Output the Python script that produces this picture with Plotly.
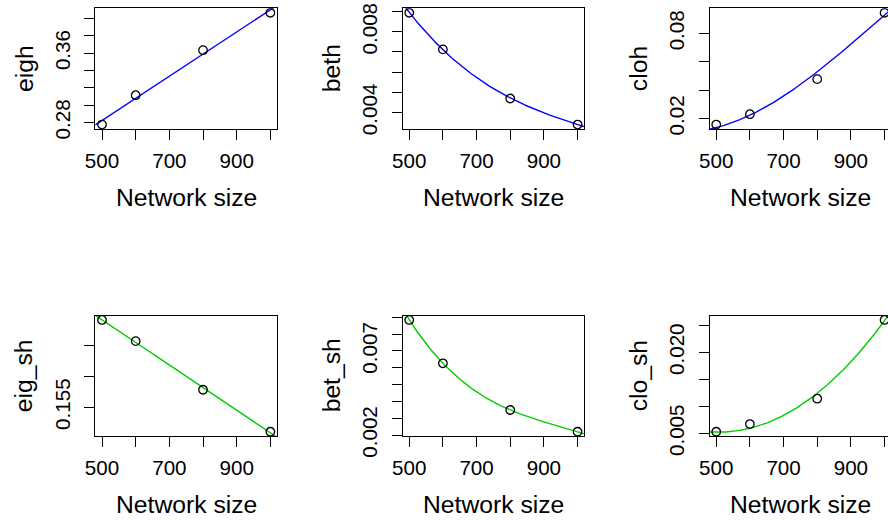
import numpy as np
import plotly.graph_objects as go

# ---- data ----
network_size = [500, 600, 800, 1000]

# observed points
eigh = [0.2777, 0.3115, 0.3634, 0.4065]
beth = [0.008943, 0.007127, 0.004695, 0.003404]
cloh = [0.01576, 0.02304, 0.04775, 0.09455]
eig_sh = [0.16917, 0.16574, 0.15784, 0.15103]
bet_sh = [0.008845, 0.006268, 0.003488, 0.002196]
clo_sh = [0.005296, 0.006722, 0.011407, 0.025981]

# fitted-curve values at the same network sizes
beth_fit = [0.008960, 0.007110, 0.004720, 0.003404]
cloh_fit = [0.01360, 0.02230, 0.05290, 0.09290]
bet_sh_fit = [0.008845, 0.006268, 0.003488, 0.002196]
clo_sh_fit = [0.00520, 0.00593, 0.01240, 0.02585]

x_ticks = [500, 600, 700, 800, 900, 1000]
x_ticklabels = ["500", "", "700", "", "900", ""]

y_ticks = [
    [0.28, 0.30, 0.32, 0.34, 0.36, 0.38, 0.40],
    [0.004, 0.005, 0.006, 0.007, 0.008, 0.009],
    [0.02, 0.04, 0.06, 0.08],
    [0.155, 0.160, 0.165],
    [0.002, 0.003, 0.004, 0.005, 0.006, 0.007, 0.008, 0.009],
    [0.005, 0.010, 0.015, 0.020, 0.025],
]
y_ticklabels = [
    ["0.28", "", "", "", "0.36", "", ""],
    ["0.004", "", "", "", "0.008", ""],
    ["0.02", "", "", "0.08"],
    ["0.155", "", ""],
    ["0.002", "", "", "", "", "0.007", "", ""],
    ["0.005", "", "", "0.020", ""],
]

names = ["eigh", "beth", "cloh", "eig_sh", "bet_sh", "clo_sh"]
series = [eigh, beth, cloh, eig_sh, bet_sh, clo_sh]
# linear panels: least-squares line through the points;
# curved panels: smooth curve through the read fitted values
fit_values = [eigh, beth_fit, cloh_fit, eig_sh, bet_sh_fit, clo_sh_fit]
fit_degree = [1, 3, 3, 1, 3, 3]
line_colors = ["#0000FF", "#0000FF", "#0000FF", "#00CD00", "#00CD00", "#00CD00"]

# ---- layout geometry (pixels) ----
W, H = 888, 520
col_left = [95.3, 402.5, 709.5]
box_w = 181.8
row_top = [8.3, 315.5]
box_h = 120.7
x_lo, x_hi = 480, 1020

FONT = "Liberation Sans, Arial, Helvetica, sans-serif"
tick_size = 20.6
title_size = 24.7

fig = go.Figure()
annotations = []
layout_axes = {}

for i, (name, ys) in enumerate(zip(names, series)):
    r, c = divmod(i, 3)
    k = i + 1
    xa = "x" if k == 1 else f"x{k}"
    ya = "y" if k == 1 else f"y{k}"
    xkey = "xaxis" if k == 1 else f"xaxis{k}"
    ykey = "yaxis" if k == 1 else f"yaxis{k}"

    left = col_left[c]
    right = min(left + box_w, W)
    top = row_top[r]
    bottom = top + box_h
    xr_hi = x_lo + (right - left) / box_w * (x_hi - x_lo)

    ymin, ymax = min(ys), max(ys)
    span = ymax - ymin
    yr = [ymin - 0.04 * span, ymax + 0.04 * span]

    coef = np.polyfit(network_size, fit_values[i], fit_degree[i])
    xs = np.linspace(x_lo, x_hi, 300)
    fig.add_trace(go.Scatter(x=xs, y=np.polyval(coef, xs), mode="lines",
                             line=dict(color=line_colors[i], width=1.4),
                             xaxis=xa, yaxis=ya, hoverinfo="skip", showlegend=False))
    fig.add_trace(go.Scatter(x=network_size, y=ys, mode="markers",
                             marker=dict(symbol="circle-open", size=8.5,
                                         color="black", line=dict(width=1.3, color="black")),
                             xaxis=xa, yaxis=ya, showlegend=False))

    layout_axes[xkey] = dict(
        domain=[left / W, right / W], anchor=ya, range=[x_lo, xr_hi],
        automargin=False,
        showline=True, mirror=True, linecolor="black", linewidth=1,
        showgrid=False, zeroline=False,
        ticks="outside", ticklen=10, tickwidth=1, tickcolor="black",
        tickvals=x_ticks, ticktext=x_ticklabels,
        tickfont=dict(family=FONT, size=tick_size, color="black"),
        ticklabelstandoff=3,
    )
    layout_axes[ykey] = dict(
        domain=[1 - bottom / H, 1 - top / H], anchor=xa, range=yr,
        automargin=False,
        showline=True, mirror=(c != 2), linecolor="black", linewidth=1,
        showgrid=False, zeroline=False,
        ticks="outside", ticklen=10, tickwidth=1, tickcolor="black",
        tickvals=y_ticks[i], ticktext=y_ticklabels[i], tickangle=-90,
        tickfont=dict(family=FONT, size=tick_size, color="black"),
        ticklabelstandoff=6,
    )

    annotations.append(dict(
        text="Network size", xref="paper", yref="paper",
        x=(left + box_w / 2) / W, y=1 - (bottom + 68) / H,
        xanchor="center", yanchor="middle", showarrow=False,
        font=dict(family=FONT, size=title_size, color="black")))
    annotations.append(dict(
        text=name, xref="paper", yref="paper",
        x=(left - 71) / W, y=1 - (top + box_h / 2) / H,
        xanchor="center", yanchor="middle", showarrow=False, textangle=-90,
        font=dict(family=FONT, size=title_size, color="black")))

fig.update_layout(
    width=W, height=H, margin=dict(l=0, r=0, t=0, b=0),
    paper_bgcolor="white", plot_bgcolor="white",
    annotations=annotations, **layout_axes,
)

fig.write_html("out.html")
